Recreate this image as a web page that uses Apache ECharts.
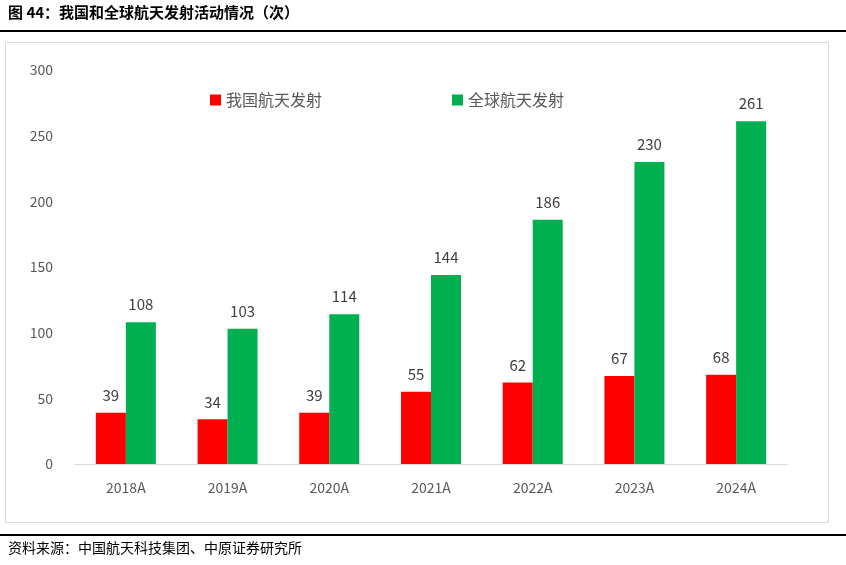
<!DOCTYPE html>
<html><head><meta charset="utf-8">
<script src="https://cdn.jsdelivr.net/npm/echarts@6/dist/echarts.min.js"></script>
<style>html,body{margin:0;padding:0;background:#fff}#c{width:846px;height:565px}</style>
</head><body><div id="c"></div>
<script>
const categories=['2018A','2019A','2020A','2021A','2022A','2023A','2024A'];
const chinaLaunches=[39,34,39,55,62,67,68];
const globalLaunches=[108,103,114,144,186,230,261];
const yTicks=[0,50,100,150,200,250,300];
const chart=echarts.init(document.getElementById('c'));
const lbl={show:true,position:'top',distance:10,color:'#404040',fontSize:15,fontFamily:'Noto Sans CJK SC'};
chart.setOption({
 animation:false,
 textStyle:{fontFamily:'Noto Sans CJK SC'},
 graphic:[
  {type:'text',left:8,top:5,style:{text:'图 44：我国和全球航天发射活动情况（次）',font:'bold 15px "Noto Sans CJK SC"',fill:'#000'}},
  {type:'rect',shape:{x:0,y:30,width:846,height:2},style:{fill:'#000'}},
  {type:'rect',shape:{x:5.5,y:42.5,width:823,height:480},style:{fill:'none',stroke:'#d9d9d9',lineWidth:1}},
  {type:'rect',shape:{x:0,y:534,width:846,height:2},style:{fill:'#000'}},
  {type:'text',left:8,top:541,style:{text:'资料来源：中国航天科技集团、中原证券研究所',font:'14px "Noto Sans CJK SC"',fill:'#000'}}
 ],
 legend:{top:87,left:205,itemGap:130,itemWidth:11,itemHeight:11,icon:'rect',
  textStyle:{fontSize:16,color:'#595959'},data:['我国航天发射','全球航天发射']},
 grid:{left:75,right:59,top:70,bottom:101},
 xAxis:{type:'category',data:categories,axisTick:{show:false},
  axisLine:{lineStyle:{color:'#d9d9d9'}},axisLabel:{color:'#595959',fontSize:14,margin:17}},
 yAxis:{type:'value',min:0,max:300,interval:50,splitLine:{show:false},
  axisLabel:{color:'#595959',fontSize:14,margin:22}},
 series:[
  {name:'我国航天发射',type:'bar',data:chinaLaunches,barWidth:30,barGap:'0%',itemStyle:{color:'#ff0000'},label:lbl},
  {name:'全球航天发射',type:'bar',data:globalLaunches,barWidth:30,itemStyle:{color:'#00b050'},label:lbl}
 ]
});
</script></body></html>
